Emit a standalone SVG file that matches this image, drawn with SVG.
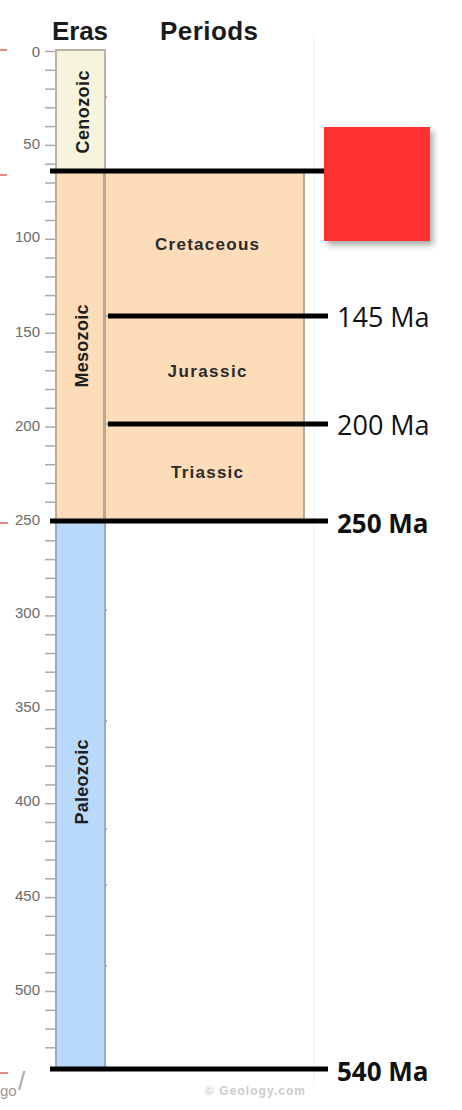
<svg xmlns="http://www.w3.org/2000/svg" width="462" height="1110" viewBox="0 0 462 1110">
<defs>
<style>
.hdr{font-family:"Liberation Sans",Arial,sans-serif;font-weight:bold;font-size:26px;fill:#1a1a1a}
.ax{font-family:"Liberation Sans",Arial,sans-serif;font-size:15px;fill:#6a6a6a;text-anchor:end}
.tick{stroke:#aaaaaa;stroke-width:1.5}
.era{font-family:"Liberation Sans",Arial,sans-serif;font-weight:bold;font-size:18px;fill:#1e1e1e;text-anchor:middle}
.per{font-family:"Liberation Sans",Arial,sans-serif;font-weight:bold;font-size:17px;fill:#2a2a2a;text-anchor:middle}
.bl{stroke:#000;stroke-width:5}
.ma{font-family:"Open Sans","Noto Sans",sans-serif;font-size:27px;fill:#111}
.mab{font-family:"Open Sans","Noto Sans",sans-serif;font-size:26px;font-weight:bold;fill:#111}
.red{stroke:#e06060;stroke-width:1.5}
</style>
<filter id="sh" x="-20%" y="-20%" width="150%" height="150%">
<feDropShadow dx="3" dy="4" stdDeviation="3" flood-color="#000" flood-opacity="0.35"/>
</filter>
</defs>
<rect width="462" height="1110" fill="#fff"/>
<line x1="314" y1="35" x2="314" y2="1085" stroke="#f0f0f0" stroke-width="1"/>

<g id="headers">
<text class="hdr" x="52" y="40" textLength="56">Eras</text>
<text class="hdr" x="160" y="40" textLength="98">Periods</text>
</g>

<g id="axis">
<g class="tick">
<line x1="45" y1="51.5" x2="55" y2="51.5"/><line x1="45" y1="70.3" x2="55" y2="70.3"/><line x1="45" y1="89.1" x2="55" y2="89.1"/><line x1="45" y1="107.8" x2="55" y2="107.8"/><line x1="45" y1="126.6" x2="55" y2="126.6"/><line x1="45" y1="145.4" x2="55" y2="145.4"/><line x1="45" y1="164.2" x2="55" y2="164.2"/><line x1="45" y1="183" x2="55" y2="183"/><line x1="45" y1="201.7" x2="55" y2="201.7"/><line x1="45" y1="220.5" x2="55" y2="220.5"/><line x1="45" y1="239.3" x2="55" y2="239.3"/><line x1="45" y1="258.1" x2="55" y2="258.1"/><line x1="45" y1="276.9" x2="55" y2="276.9"/><line x1="45" y1="295.6" x2="55" y2="295.6"/><line x1="45" y1="314.4" x2="55" y2="314.4"/><line x1="45" y1="333.2" x2="55" y2="333.2"/><line x1="45" y1="352" x2="55" y2="352"/><line x1="45" y1="370.8" x2="55" y2="370.8"/><line x1="45" y1="389.5" x2="55" y2="389.5"/><line x1="45" y1="408.3" x2="55" y2="408.3"/><line x1="45" y1="427.1" x2="55" y2="427.1"/><line x1="45" y1="445.9" x2="55" y2="445.9"/><line x1="45" y1="464.7" x2="55" y2="464.7"/><line x1="45" y1="483.4" x2="55" y2="483.4"/><line x1="45" y1="502.2" x2="55" y2="502.2"/><line x1="45" y1="540.8" x2="55" y2="540.8"/><line x1="45" y1="559.6" x2="55" y2="559.6"/><line x1="45" y1="578.3" x2="55" y2="578.3"/><line x1="45" y1="597.1" x2="55" y2="597.1"/><line x1="45" y1="615.9" x2="55" y2="615.9"/><line x1="45" y1="634.7" x2="55" y2="634.7"/><line x1="45" y1="653.5" x2="55" y2="653.5"/><line x1="45" y1="672.2" x2="55" y2="672.2"/><line x1="45" y1="691" x2="55" y2="691"/><line x1="45" y1="709.8" x2="55" y2="709.8"/><line x1="45" y1="728.6" x2="55" y2="728.6"/><line x1="45" y1="747.4" x2="55" y2="747.4"/><line x1="45" y1="766.1" x2="55" y2="766.1"/><line x1="45" y1="784.9" x2="55" y2="784.9"/><line x1="45" y1="803.7" x2="55" y2="803.7"/><line x1="45" y1="822.5" x2="55" y2="822.5"/><line x1="45" y1="841.3" x2="55" y2="841.3"/><line x1="45" y1="860" x2="55" y2="860"/><line x1="45" y1="878.8" x2="55" y2="878.8"/><line x1="45" y1="897.6" x2="55" y2="897.6"/><line x1="45" y1="916.4" x2="55" y2="916.4"/><line x1="45" y1="935.2" x2="55" y2="935.2"/><line x1="45" y1="953.9" x2="55" y2="953.9"/><line x1="45" y1="972.7" x2="55" y2="972.7"/><line x1="45" y1="991.5" x2="55" y2="991.5"/><line x1="45" y1="1010.3" x2="55" y2="1010.3"/><line x1="45" y1="1029.1" x2="55" y2="1029.1"/><line x1="45" y1="1047.8" x2="55" y2="1047.8"/>
</g>
<text class="ax" x="40" y="57">0</text>
<text class="ax" x="40" y="149">50</text>
<text class="ax" x="40" y="242">100</text>
<text class="ax" x="40" y="337">150</text>
<text class="ax" x="40" y="431">200</text>
<text class="ax" x="40" y="525">250</text>
<text class="ax" x="40" y="618">300</text>
<text class="ax" x="40" y="712">350</text>
<text class="ax" x="40" y="806">400</text>
<text class="ax" x="40" y="901">450</text>
<text class="ax" x="40" y="995">500</text>
<g class="red">
<line x1="0" y1="50" x2="7" y2="50"/><line x1="0" y1="175" x2="7" y2="175"/><line x1="0" y1="523" x2="8" y2="523"/><line x1="0" y1="1073" x2="8" y2="1073"/>
</g>
<text x="0" y="1096" font-family="Liberation Sans, Arial, sans-serif" font-size="15" fill="#999">go</text>
<text x="18" y="1090" font-family="Liberation Sans, Arial, sans-serif" font-size="26" fill="#aaa">/</text>
</g>

<g id="cenozoic">
<rect x="56" y="50" width="49" height="121" fill="#f6f4dc" stroke="#b8b4a8" stroke-width="2"/>
<text class="era" transform="translate(89,112) rotate(-90)" textLength="83">Cenozoic</text>
</g>
<g id="mesozoic">
<rect x="56" y="171" width="49" height="349" fill="#fddcba" stroke="#c0aa98" stroke-width="2"/>
<text class="era" transform="translate(88,346) rotate(-90)" textLength="83">Mesozoic</text>
</g>
<g id="paleozoic">
<rect x="56" y="520" width="49" height="548" fill="#b9d9fb" stroke="#98acc4" stroke-width="2"/>
<text class="era" transform="translate(88,782) rotate(-90)" textLength="85">Paleozoic</text>
</g>
<g id="cretaceous">
<rect x="105" y="171" width="199" height="145" fill="#fddcba" stroke="#b8a89a" stroke-width="2"/>
<text class="per" x="207" y="250" textLength="104">Cretaceous</text>
</g>
<g id="jurassic">
<rect x="105" y="316" width="199" height="108" fill="#fddcba" stroke="#b8a89a" stroke-width="2"/>
<text class="per" x="207" y="377" textLength="79">Jurassic</text>
</g>
<g id="triassic">
<rect x="105" y="424" width="199" height="96" fill="#fddcba" stroke="#b8a89a" stroke-width="2"/>
<text class="per" x="207" y="478" textLength="72">Triassic</text>
</g>
<rect x="104" y="171" width="200" height="349" fill="none" stroke="#b8a89a" stroke-width="2"/>
<g fill="#aaa">
<rect x="105" y="96" width="2" height="2"/><rect x="105" y="609" width="2" height="2"/><rect x="105" y="720" width="2" height="2"/><rect x="105" y="828" width="2" height="2"/><rect x="105" y="884" width="2" height="2"/><rect x="105" y="965" width="2" height="2"/>
</g>

<g id="boundaries">
<line class="bl" x1="50" y1="171" x2="326" y2="171"/>
<line class="bl" x1="108" y1="316" x2="328" y2="316"/>
<line class="bl" x1="108" y1="424" x2="328" y2="424"/>
<line class="bl" x1="50" y1="521" x2="328" y2="521"/>
<line class="bl" x1="50" y1="1069" x2="328" y2="1069"/>
</g>

<g id="labels">
<text class="ma" x="337" y="327">145 Ma</text>
<text class="ma" x="337" y="435">200 Ma</text>
<text class="mab" x="337" y="533">250 Ma</text>
<text class="mab" x="337" y="1081">540 Ma</text>
</g>

<g id="red-box">
<rect x="324" y="127" width="106" height="114" fill="#ff3030" filter="url(#sh)"/>
</g>

<text x="205" y="1095" font-family="Liberation Sans, Arial, sans-serif" font-size="12" font-weight="bold" fill="#cccccc" textLength="100">© Geology.com</text>
</svg>
